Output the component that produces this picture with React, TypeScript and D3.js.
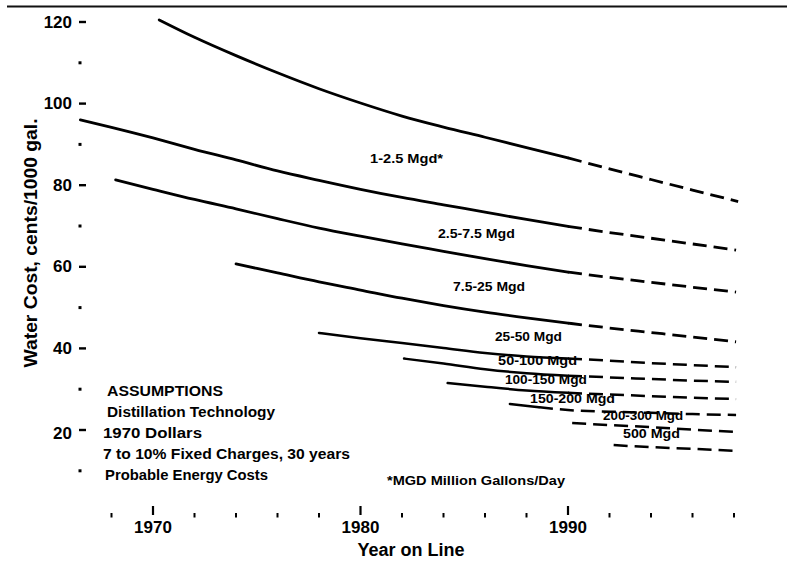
import React from "react";
import * as d3 from "d3";

type Pt = [number, number];

// ---- data (year, cents/1000 gal) ----
const curve1: Pt[] = [[1970.3,120.5],[1972,116.25],[1974,111.75],[1976,107.55],[1978,103.65],[1980,100.15],[1982,96.95],[1984,94.25],[1986,91.75],[1988,89.2],[1990,86.7],[1992,84],[1994,81.4],[1996,78.8],[1998.2,76]];
const curve2: Pt[] = [[1966.5,96],[1968,94.2],[1970,91.6],[1972,88.8],[1974,86.2],[1976,83.5],[1978,81.2],[1980,79],[1982,77],[1984,75.2],[1986,73.4],[1988,71.6],[1990,69.9],[1992,68.4],[1994,67],[1996,65.6],[1998.1,64.1]];
const curve3: Pt[] = [[1968.2,81.3],[1970,79],[1972,76.5],[1974,74.2],[1976,71.8],[1978,69.5],[1980,67.5],[1982,65.6],[1984,63.8],[1986,62],[1988,60.3],[1990,58.7],[1992,57.4],[1994,56.2],[1996,55],[1998.1,53.8]];
const curve4: Pt[] = [[1974,60.7],[1976,58.5],[1978,56.3],[1980,54.3],[1982,52.3],[1984,50.5],[1986,48.9],[1988,47.5],[1990,46.2],[1992,45],[1994,43.9],[1996,42.8],[1998.1,41.6]];
const curve5: Pt[] = [[1978,43.8],[1980,42.5],[1982,41.3],[1984,40.1],[1986,38.9],[1988,38],[1990,37.5],[1992,37],[1994,36.4],[1996,35.9],[1998.1,35.4]];
const curve6: Pt[] = [[1982.1,37.5],[1984,36.3],[1986,34.9],[1988,33.9],[1990,33.3],[1992,32.9],[1994,32.5],[1996,32.1],[1998.1,31.8]];
const curve7: Pt[] = [[1984.2,31.5],[1986,30.6],[1988,29.7],[1990,29.1],[1992,28.7],[1994,28.3],[1996,27.9],[1998.1,27.6]];
const curve8: Pt[] = [[1987.2,26.4],[1988.6,25.6],[1990,24.9],[1992,24.5],[1994,24.2],[1996,23.9],[1998.1,23.7]];
const curve9: Pt[] = [[1990.2,21.7],[1992,21.2],[1994,20.7],[1996,20.1],[1998.1,19.5]];
const curve10: Pt[] = [[1992.2,16.3],[1994,15.8],[1996,15.4],[1998.1,14.9]];

// year from which each curve is projected (dashed)
const projectedFrom = [1990, 1990, 1990, 1990, 1990, 1990, 1990, 1988.6, 1990.2, 1992.2];

const curveLabels = ["1-2.5 Mgd*", "2.5-7.5 Mgd", "7.5-25 Mgd", "25-50 Mgd", "50-100 Mgd", "100-150 Mgd", "150-200 Mgd", "200-300 Mgd", "500 Mgd"];
// label anchors (year, value) – left edge / vertical centre
const labelYears = [1980.46, 1983.73, 1984.46, 1986.48, 1986.63, 1986.96, 1988.17, 1991.69, 1992.65];
const labelValues = [86.4, 68.0, 55.05, 42.8, 36.9, 32.25, 27.6, 23.4, 19.0];

const yMajorTicks = [20, 40, 60, 80, 100, 120];
const yMinorTicks = [10, 30, 50, 70, 90, 110];
const xMajorTicks = [1970, 1980, 1990];
const xMinorTicks = [1968, 1972, 1974, 1976, 1978, 1982, 1984, 1986, 1988, 1992, 1994, 1996, 1998];

const assumptions = ["ASSUMPTIONS", "Distillation Technology", "1970 Dollars", "7 to 10% Fixed Charges, 30 years", "Probable Energy Costs"];
const footnote = "*MGD Million Gallons/Day";
const yTitle = "Water Cost, cents/1000 gal.";
const xTitle = "Year on Line";

const curves = [curve1, curve2, curve3, curve4, curve5, curve6, curve7, curve8, curve9, curve10];

// measured text widths / positions (layout)
const labelWidths = [73, 77, 72, 67, 79, 82, 85, 80, 57];
const assumptionX = [107, 107, 103, 103, 105];
const assumptionW = [116, 168, 99, 247, 163];

export default function App() {
  const W = 787, H = 566;
  const x = d3.scaleLinear().domain([1970, 1990]).range([153, 568]);
  const y = d3.scaleLinear().domain([0, 120]).range([511.6, 22]);
  const line = d3.line<Pt>().x(d => x(d[0])).y(d => y(d[1])).curve(d3.curveMonotoneX);
  const axisX = 80;
  const font = "'Liberation Sans', Arial, sans-serif";

  return (
    <svg width={W} height={H} style={{ position: "absolute", left: 0, top: 0, background: "#fff" }} fontFamily={font}>
      <rect x={0} y={0} width={W} height={H} fill="#fff" />
      {/* top border */}
      <line x1={7} x2={787} y1={6.5} y2={6.5} stroke="#111" strokeWidth={2} />

      {/* y axis ticks */}
      {yMajorTicks.map(v => (
        <g key={"ym" + v}>
          <line x1={axisX - 1} x2={axisX + 6} y1={y(v)} y2={y(v)} stroke="#000" strokeWidth={2.4} />
          <text x={72} y={y(v) + (v === 20 ? 3 : 0)} textAnchor="end" dominantBaseline="central" fontSize={17} fontWeight={700}>{v}</text>
        </g>
      ))}
      {yMinorTicks.map(v => (
        <rect key={"yn" + v} x={axisX - 1.5} y={y(v) - 1.5} width={3} height={3} fill="#000" />
      ))}

      {/* x axis ticks */}
      {xMajorTicks.map(t => (
        <g key={"xm" + t}>
          <line x1={x(t)} x2={x(t)} y1={506} y2={515} stroke="#000" strokeWidth={2.2} />
          <text x={x(t)} y={527} textAnchor="middle" dominantBaseline="central" fontSize={17} fontWeight={700}>{t}</text>
        </g>
      ))}
      {xMinorTicks.map(t => (
        <line key={"xn" + t} x1={x(t)} x2={x(t)} y1={513} y2={517.5} stroke="#000" strokeWidth={2} />
      ))}

      {/* axis titles */}
      <text x={411} y={550} textAnchor="middle" dominantBaseline="central" fontSize={18} fontWeight={700}>{xTitle}</text>
      <text transform={`translate(31,243) rotate(-90)`} textAnchor="middle" dominantBaseline="central" fontSize={18} fontWeight={700} textLength={249} lengthAdjust="spacingAndGlyphs">{yTitle}</text>

      {/* curves */}
      {curves.map((c, i) => {
        const split = projectedFrom[i];
        const solid = c.filter(d => d[0] <= split);
        const dashed = c.filter(d => d[0] >= split);
        const sw = i < 4 ? 2.8 : 2.5;
        return (
          <g key={"c" + i}>
            {solid.length > 1 && <path d={line(solid) || ""} fill="none" stroke="#000" strokeWidth={sw} strokeLinecap="round" />}
            {dashed.length > 1 && <path d={line(dashed) || ""} fill="none" stroke="#000" strokeWidth={sw} strokeDasharray="14 7" />}
          </g>
        );
      })}

      {/* curve labels */}
      {curveLabels.map((lab, i) => (
        <text key={"l" + i} x={x(labelYears[i])} y={y(labelValues[i])} dominantBaseline="central" fontSize={12.5} fontWeight={700}
          textLength={labelWidths[i]} lengthAdjust="spacingAndGlyphs">{lab}</text>
      ))}

      {/* assumptions block */}
      {assumptions.map((s, i) => (
        <text key={"a" + i} x={assumptionX[i]} y={391 + i * 21} dominantBaseline="central" fontSize={14} fontWeight={700}
          textLength={assumptionW[i]} lengthAdjust="spacingAndGlyphs">{s}</text>
      ))}
      <text x={387} y={480} dominantBaseline="central" fontSize={13.5} fontWeight={700} textLength={178} lengthAdjust="spacingAndGlyphs">{footnote}</text>
    </svg>
  );
}
